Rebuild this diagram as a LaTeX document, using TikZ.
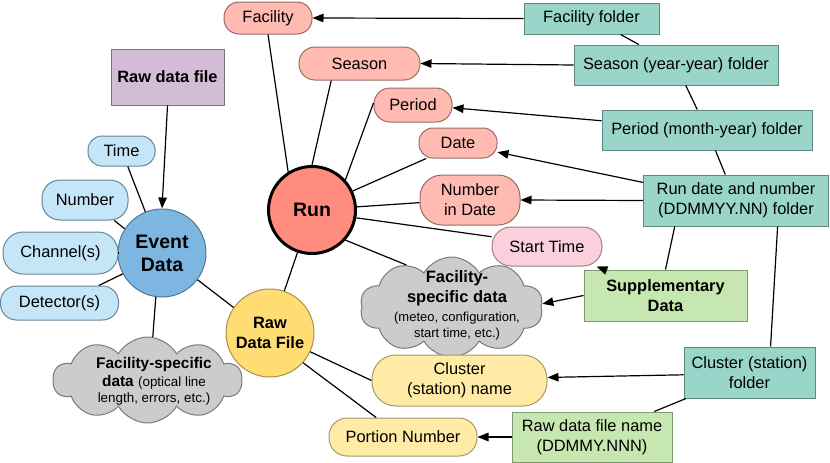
\documentclass[tikz,border=0pt]{standalone}
\usepackage{fontspec}
\setmainfont{Liberation Sans}
\usetikzlibrary{shapes.symbols,arrows.meta}
\definecolor{crun}{HTML}{FF8C7E}
\definecolor{cred}{HTML}{FFBBB1}
\definecolor{credd}{HTML}{9A6A64}
\definecolor{cpink}{HTML}{F9D0DC}
\definecolor{cpinkd}{HTML}{A08088}
\definecolor{cevent}{HTML}{7EB6E2}
\definecolor{ceventd}{HTML}{4F7898}
\definecolor{cblue}{HTML}{C5E6F8}
\definecolor{cblued}{HTML}{6A8596}
\definecolor{cpurple}{HTML}{D3BCD5}
\definecolor{cpurpled}{HTML}{7F6D80}
\definecolor{cyel}{HTML}{FFDD73}
\definecolor{cyeld}{HTML}{A89048}
\definecolor{cyell}{HTML}{FFEAA6}
\definecolor{cyelld}{HTML}{A59A68}
\definecolor{cteal}{HTML}{9AD5C9}
\definecolor{cteald}{HTML}{5E8880}
\definecolor{cgreen}{HTML}{C6E7AF}
\definecolor{cgreend}{HTML}{7D9970}
\definecolor{cgray}{HTML}{CCCCCC}
\definecolor{cgrayd}{HTML}{7A7A7A}
\begin{document}
\begin{tikzpicture}[x=1pt,y=-1pt,
  every node/.style={font=\fontsize{16.4}{20}\selectfont, inner sep=0pt, align=center},
  base/.style={draw, line width=1pt},
  pill/.style={base, rectangle, rounded corners=#1},
  box/.style={base, rectangle},
  bigcirc/.style={base, circle, font=\fontsize{19.5}{23}\selectfont\bfseries},
  bf/.style={font=\fontsize{16.4}{20}\selectfont\bfseries},
  redpill/.style={pill=#1, fill=cred, draw=credd},
  bluepill/.style={pill=#1, fill=cblue, draw=cblued},
  yelpill/.style={pill=#1, fill=cyell, draw=cyelld},
  tealbox/.style={box, fill=cteal, draw=cteald},
  greenbox/.style={box, fill=cgreen, draw=cgreend},
  gcloud/.style={base, cloud, cloud puffs=10, cloud puff arc=120, fill=cgray, draw=cgrayd},
  conn/.style={line width=1.2pt},
  arr/.style={conn, -{Triangle[length=11pt,width=8.5pt]}}]
\useasboundingbox (0,0) rectangle (830,463);

% left cluster
\node[box, bf, fill=cpurple, draw=cpurpled, minimum width=113pt, minimum height=56pt] (rawbox) at (167.5,77) {Raw data file};
\node[bigcirc, fill=cevent, draw=ceventd, minimum size=88pt] (event) at (162,253) {Event\\Data};
\node[bluepill=14pt, minimum width=67pt, minimum height=30pt] (time) at (121.5,151) {Time};
\node[bluepill=18pt, minimum width=86pt, minimum height=40pt] (number) at (85,200) {Number};
\node[bluepill=20pt, minimum width=115pt, minimum height=42pt] (channel) at (60.5,253) {Channel(s)};
\node[bluepill=16pt, minimum width=118pt, minimum height=34pt] (detector) at (59.5,303) {Detector(s)};
\node[gcloud, minimum width=189pt, minimum height=86pt] (bcloud) at (147.5,380) {};
\node[font=\fontsize{15.4}{20}\selectfont] (bcloudtext) at (154,381) {\textbf{Facility-specific}\\[-2pt] \textbf{data} {\fontsize{13.4}{16}\selectfont (optical line}\\[-4pt] {\fontsize{13.4}{16}\selectfont length, errors, etc.)}};
\node[bigcirc, fill=cyel, draw=cyeld, minimum size=88pt, font=\fontsize{16.4}{20}\selectfont\bfseries] (rdf) at (270,333) {Raw\\Data File};

% run cluster
\node[bigcirc, fill=crun, draw=black, line width=3pt, minimum size=87pt] (run) at (312,210) {Run};
\node[redpill=15pt, minimum width=88pt, minimum height=32pt] (facility) at (268,18) {Facility};
\node[redpill=16pt, minimum width=121pt, minimum height=33pt] (season) at (359.5,63.5) {Season};
\node[redpill=16pt, minimum width=78pt, minimum height=34pt] (period) at (413,105) {Period};
\node[redpill=14pt, minimum width=78pt, minimum height=30pt] (date) at (458,143) {Date};
\node[redpill=22pt, minimum width=100pt, minimum height=50pt] (nid) at (470,200) {Number\\in Date};
\node[pill=19pt, fill=cpink, draw=cpinkd, minimum width=110pt, minimum height=39pt] (start) at (547,246.5) {Start Time};
\node[gcloud, minimum width=183pt, minimum height=100pt] (mcloud) at (451.5,307) {};
\node[font=\fontsize{16.5}{20}\selectfont\bfseries] (mcloudtext) at (457,305) {Facility-\\specific data\\[-1pt] {\mdseries\fontsize{13}{16}\selectfont (meteo, configuration,}\\[-4pt] {\mdseries\fontsize{13}{16}\selectfont start time, etc.)}};
\node[yelpill=24pt, minimum width=175pt, minimum height=51pt] (cname) at (459.5,380.5) {Cluster\\(station) name};
\node[yelpill=18pt, minimum width=148pt, minimum height=38pt] (portion) at (403,437) {Portion Number};

% right boxes
\node[tealbox, minimum width=135pt, minimum height=31pt] (ffolder) at (591.5,18.5) {Facility folder};
\node[tealbox, minimum width=204pt, minimum height=40pt] (sfolder) at (676,65) {Season (year-year) folder};
\node[tealbox, minimum width=210pt, minimum height=40pt] (pfolder) at (707,130) {Period (month-year) folder};
\node[tealbox, minimum width=185pt, minimum height=51pt] (rfolder) at (736,200.5) {Run date and number\\(DDMMYY.NN) folder};
\node[tealbox, minimum width=131pt, minimum height=51pt] (cfolder) at (749.5,372.5) {Cluster (station)\\folder};
\node[greenbox, bf, minimum width=163pt, minimum height=51pt] (supp) at (665.5,295.5) {Supplementary\\Data};
\node[greenbox, minimum width=160pt, minimum height=50pt] (rawname) at (592,437) {Raw data file name\\(DDMMY.NNN)};

% connectors
\draw[arr] (rawbox.south) -- (event.north);
\draw[conn] (time.292) -- (event.112);
\draw[conn] (number.325) -- (event.147);
\draw[conn] (channel.east) -- (event.west);
\draw[conn] (detector.24) -- (event.208);
\draw[conn] (event.262) -- (bcloud.83);
\draw[conn] (event.323) -- (rdf.145);
\draw[conn] (run) -- (rdf);
\draw[conn] (facility.south) -- (run.122);
\draw[conn] (season.211) -- (run.90);
\draw[conn] (period.177) -- (run.42);
\draw[conn] (date.206) -- (run.25);
\draw[conn] (nid.183) -- (run.4);
\draw[conn] (start.170) -- (run.350);
\draw[conn] (mcloud.137) -- (run.318);
\draw[conn] (rdf.335) -- (cname.west);
\draw[conn] (rdf.318) -- (portion.144);
\draw[arr] (ffolder.west) -- (facility.east);
\draw[conn] (ffolder) -- (sfolder);
\draw[conn] (sfolder) -- (pfolder);
\draw[conn] (pfolder) -- (rfolder);
\draw[conn] (rfolder.203) -- (supp.north);
\draw[conn] (rfolder.328) -- (cfolder.51);
\draw[conn] (cfolder) -- (rawname);
\draw[arr] (sfolder.west) -- (season.east);
\draw[arr] (pfolder.175) -- (period.356);
\draw[arr] (rfolder.169) -- (date.347);
\draw[arr] (rfolder.west) -- (nid.east);
\draw[arr] (supp.157) -- (start.338);
\draw[arr] (supp.west) -- (mcloud.2);
\draw[arr] (cfolder.182) -- (cname.2);
\draw[arr] (rawname.west) -- (portion.east);
\end{tikzpicture}
\end{document}
